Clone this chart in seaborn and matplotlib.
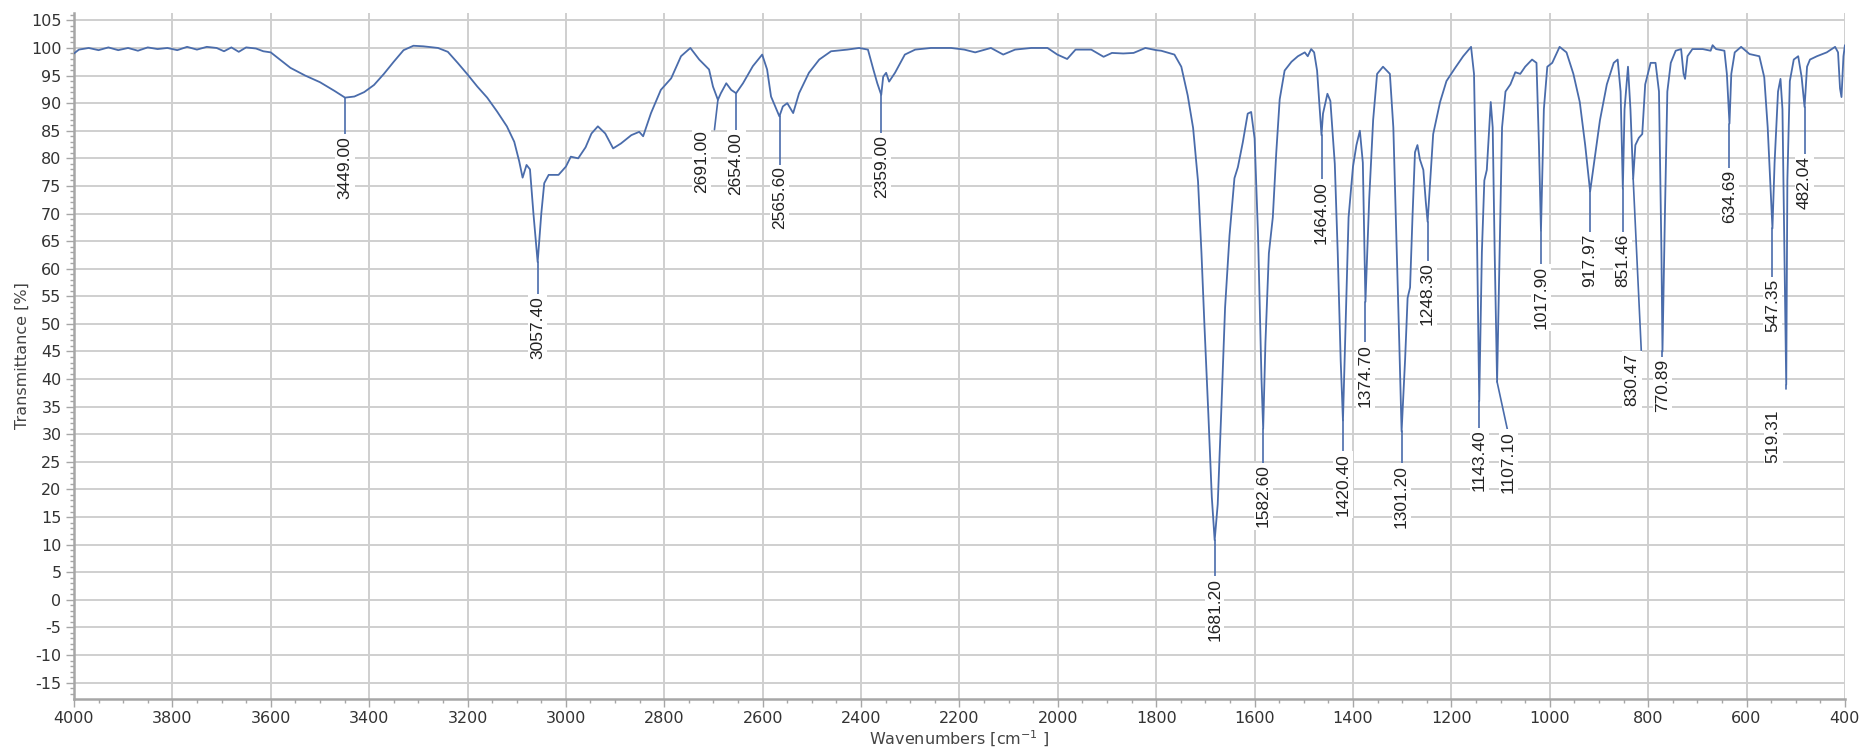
import matplotlib
matplotlib.use("Agg")
import matplotlib.pyplot as plt
import seaborn as sns
import numpy as np
import pandas as pd
from matplotlib.ticker import MultipleLocator

# IR spectrum: wavenumber [cm-1] and transmittance [%]
wavenumber = [
    4000, 3990, 3970, 3950, 3930, 3910, 3890, 3870, 3850, 3830, 3810, 3790,
    3770, 3750, 3730, 3710, 3695, 3680, 3665, 3650, 3630, 3615, 3600, 3580,
    3560, 3530, 3500, 3470, 3449, 3430, 3410, 3390, 3370, 3350, 3330, 3310,
    3290, 3260, 3240, 3220, 3200, 3180, 3160, 3140, 3120, 3105, 3095, 3088,
    3080, 3073, 3066, 3057.4, 3050, 3044, 3035, 3015, 3000, 2990, 2975, 2960,
    2948, 2935, 2920, 2904, 2888, 2867, 2851, 2843, 2827, 2807, 2786, 2766,
    2747, 2729, 2709, 2701, 2691, 2685, 2674, 2664, 2654, 2640, 2620, 2601,
    2591, 2583, 2566, 2559, 2550, 2538, 2526, 2506, 2485, 2461, 2428, 2404,
    2386, 2375, 2367, 2359, 2355, 2349, 2343, 2331, 2311, 2290, 2258, 2217,
    2190, 2168, 2136, 2111, 2087, 2054, 2021, 2001, 1981, 1964, 1932, 1907,
    1890, 1867, 1846, 1822, 1800, 1790, 1763, 1749, 1736, 1725, 1715, 1708,
    1702, 1694, 1687, 1681.2, 1675, 1668, 1660, 1651, 1641, 1634, 1624, 1614,
    1607, 1600, 1593, 1586, 1582.6, 1578, 1571, 1563, 1556, 1549, 1539, 1525,
    1512, 1498, 1492, 1485, 1479, 1473, 1464, 1461, 1452, 1446, 1437, 1431,
    1425, 1420.4, 1416, 1409, 1400, 1393, 1386, 1380, 1374.7, 1367, 1359, 1351,
    1339, 1325, 1318, 1313, 1306, 1301.2, 1294, 1289, 1284, 1279, 1274, 1269,
    1264, 1257, 1252, 1248.3, 1242, 1237, 1223, 1210, 1193, 1176, 1160, 1154,
    1148, 1143.4, 1138, 1133, 1128, 1120, 1116, 1112, 1107.1, 1102, 1097, 1090,
    1080, 1070, 1060, 1050, 1036, 1027, 1022, 1017.9, 1012, 1005, 995, 980,
    966, 952, 939, 928, 917.97, 908, 898, 884, 870, 862, 856, 851.46,
    848, 841, 836, 830.47, 826, 819, 812, 806, 795, 785, 778, 773,
    770.89, 766, 761, 754, 744, 733, 728, 725, 720, 710, 689, 673,
    669, 662, 645, 640, 634.69, 631, 624, 611, 594, 574, 564, 557,
    552, 547.35, 543, 536, 531, 527, 524, 519.31, 517, 512, 504, 495,
    488, 482.04, 477, 471, 457, 437, 420, 414, 410, 407, 403, 400,
]
transmittance = [
    99.0, 99.7, 100.0, 99.6, 100.1, 99.6, 100.0, 99.5, 100.1, 99.8, 100.0, 99.6,
    100.2, 99.7, 100.2, 100.0, 99.4, 100.1, 99.3, 100.1, 99.9, 99.4, 99.2, 97.8,
    96.4, 95.0, 93.8, 92.2, 91.0, 91.2, 92.0, 93.3, 95.3, 97.5, 99.6, 100.4,
    100.3, 100.0, 99.3, 97.3, 95.2, 93.0, 91.0, 88.5, 85.8, 83.0, 79.5, 76.5,
    78.8, 78.0, 70.0, 61.2, 70.0, 75.5, 77.0, 77.0, 78.5, 80.3, 80.0, 82.0,
    84.5, 85.8, 84.5, 81.8, 82.7, 84.2, 84.8, 84.0, 88.2, 92.4, 94.5, 98.5,
    100.0, 97.9, 96.1, 93.0, 90.6, 91.8, 93.6, 92.4, 91.8, 93.6, 96.7, 98.8,
    96.1, 91.2, 87.6, 89.4, 90.0, 88.2, 91.8, 95.5, 97.9, 99.4, 99.7, 100.0,
    99.7, 96.1, 93.6, 91.5, 94.8, 95.5, 93.9, 95.5, 98.8, 99.7, 100.0, 100.0,
    99.7, 99.2, 100.0, 98.8, 99.7, 100.0, 100.0, 98.8, 98.0, 99.7, 99.7, 98.4,
    99.1, 99.0, 99.1, 100.0, 99.6, 99.5, 98.8, 96.6, 91.4, 85.5, 75.8, 62.8,
    49.8, 33.6, 18.6, 10.8, 17.3, 33.6, 53.0, 66.0, 76.4, 78.4, 82.9, 88.1,
    88.4, 83.6, 66.0, 40.0, 31.0, 46.6, 62.8, 69.3, 81.0, 90.7, 95.9, 97.5,
    98.5, 99.2, 98.5, 99.8, 99.2, 95.9, 84.2, 88.1, 91.7, 90.4, 79.0, 62.8,
    43.3, 32.5, 46.6, 69.3, 78.5, 82.4, 85.0, 79.2, 54.0, 72.7, 87.0, 95.3,
    96.6, 95.3, 85.6, 69.5, 46.9, 30.5, 43.7, 54.7, 56.6, 69.5, 81.1, 82.4,
    79.8, 77.9, 72.1, 68.5, 77.3, 84.4, 90.2, 94.0, 96.3, 98.5, 100.2, 95.3,
    66.3, 36.0, 63.0, 76.0, 77.9, 90.2, 85.6, 63.0, 39.5, 63.0, 85.6, 92.1,
    93.4, 95.6, 95.3, 96.6, 97.9, 97.3, 82.4, 66.9, 88.9, 96.6, 97.3, 100.2,
    99.2, 95.3, 90.2, 82.4, 74.0, 80.5, 86.9, 93.4, 97.3, 97.9, 92.1, 74.5,
    88.9, 96.6, 88.9, 76.3, 82.4, 83.7, 84.4, 93.4, 97.3, 97.3, 92.1, 63.0,
    45.0, 69.5, 92.1, 97.3, 99.5, 99.8, 95.3, 94.4, 98.5, 99.8, 99.8, 99.5,
    100.5, 99.8, 99.5, 95.3, 86.3, 95.3, 99.2, 100.2, 98.9, 98.5, 94.7, 85.6,
    76.0, 67.3, 79.2, 92.1, 94.4, 88.9, 69.5, 39.0, 76.0, 94.0, 97.9, 98.5,
    94.7, 89.3, 96.6, 97.9, 98.5, 99.2, 100.2, 99.2, 92.7, 91.1, 98.5, 100.5,
]

# peak labels
peak_labels = ["3449.00", "3057.40", "2691.00", "2654.00", "2565.60", "2359.00",
               "1681.20", "1582.60", "1464.00", "1420.40", "1374.70", "1301.20",
               "1248.30", "1143.40", "1107.10", "1017.90", "917.97", "851.46",
               "830.47", "770.89", "634.69", "547.35", "519.31", "482.04"]
peak_wn = [float(s) for s in peak_labels]

# where each label sits (top of the rotated text, in % units) and any side shift
label_top = [84.0, 55.0, 85.2, 84.8, 78.5, 84.2, 4.0, 24.5, 75.8, 26.5, 46.3, 24.4,
             61.1, 30.8, 30.5, 60.5, 66.3, 66.3, 44.7, 43.7, 77.9, 58.2, 34.4, 80.4]
label_x = {"2691.00": 2724, "1107.10": 1084, "830.47": 833, "519.31": 546}
leader_end = {"2691.00": (2698, 85.2), "1107.10": (1086, 30.8),
              "830.47": (814, 45.2), "519.31": (519.31, 38.2)}

df = pd.DataFrame({"wn": wavenumber, "T": transmittance})

sns.set_theme(style="white")
plt.rcParams["font.family"] = ["DejaVu Sans"]
plt.rcParams["axes.unicode_minus"] = False

line_col = "#4a6cab"
grid_col = "#cfcfcf"
axis_col = "#a6a6a6"

fig = plt.figure(figsize=(18.63, 7.54), dpi=100)
ax = fig.add_axes([0.0397, 0.0735, 0.9506, 0.909])

sns.lineplot(data=df, x="wn", y="T", sort=False, estimator=None,
             color=line_col, linewidth=1.3, ax=ax, zorder=3)

# leader lines + labels
wn_inc = np.array(wavenumber)[::-1]
t_inc = np.array(transmittance)[::-1]
for lab, wn, top in zip(peak_labels, peak_wn, label_top):
    y0 = np.interp(wn, wn_inc, t_inc)
    x1, y1 = leader_end.get(lab, (wn, top))
    ax.plot([wn, x1], [y0, y1], color=line_col, lw=1.2, zorder=3)
    ax.text(label_x.get(lab, wn), top, lab, rotation=90, ha="center", va="top",
            fontsize=12.5, family="Liberation Sans", color="#222222", zorder=4,
            bbox=dict(facecolor="white", edgecolor="none", pad=1.5))

ax.set_xlim(4000, 400)
ax.set_ylim(-17.9, 106.3)
ax.xaxis.set_major_locator(MultipleLocator(200))
ax.xaxis.set_minor_locator(MultipleLocator(50))
ax.yaxis.set_major_locator(MultipleLocator(5))
ax.yaxis.set_minor_locator(MultipleLocator(1))

ax.grid(True, which="major", color=grid_col, linewidth=1.4, zorder=0)
ax.set_axisbelow(True)
for side in ["top", "right"]:
    ax.spines[side].set_visible(False)
for side in ["left", "bottom"]:
    ax.spines[side].set_color(axis_col)
    ax.spines[side].set_linewidth(1.8)

ax.tick_params(which="major", direction="out", length=6, width=1, color=axis_col,
               labelsize=11.5, labelcolor="#333333", pad=3, bottom=True, left=True)
ax.tick_params(which="minor", direction="out", length=3, width=1, color=axis_col,
               bottom=True, left=True)

ax.set_xlabel("Wavenumbers [cm$^{-1}$ ]", fontsize=11.5, color="#444444", labelpad=2)
ax.set_ylabel("Transmittance [%]", fontsize=11.5, color="#444444", labelpad=1)

fig.savefig("out.png", dpi=100)
